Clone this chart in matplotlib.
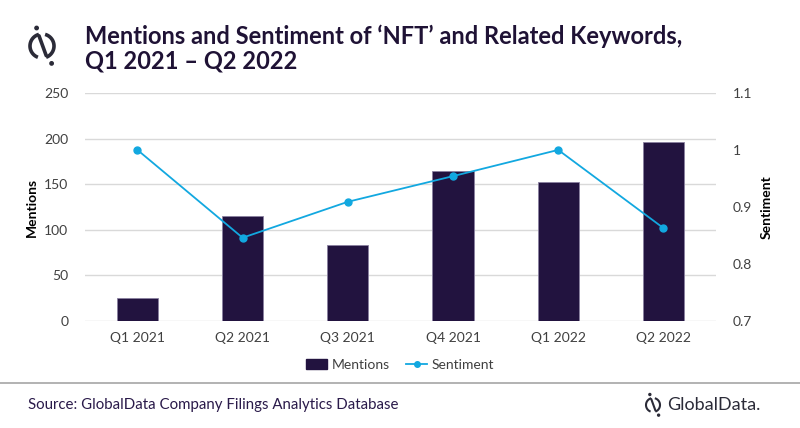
import matplotlib
matplotlib.use("Agg")
import matplotlib.pyplot as plt
import numpy as np
from matplotlib.patches import Circle
from matplotlib.lines import Line2D
from matplotlib.ticker import FuncFormatter

plt.rcParams['font.family'] = ['Lato', 'DejaVu Sans']

quarters = ['Q1 2021', 'Q2 2021', 'Q3 2021', 'Q4 2021', 'Q1 2022', 'Q2 2022']
mentions = [25, 115, 83, 164, 152, 196]
sentiment = [1.0, 0.846, 0.909, 0.954, 1.0, 0.863]

dark = '#22133f'
blue = '#12a8e0'
grey_txt = '#404040'
logo_col = '#2b2b38'

fig = plt.figure(figsize=(8, 4.28), dpi=100)
ax = fig.add_axes([0.106, 0.25, 0.789, 0.533])
ax2 = ax.twinx()

x = range(len(quarters))
ax.bar(x, mentions, width=0.39, color=dark, edgecolor='#8a80a0', linewidth=0.6, zorder=3, label='Mentions')
ax2.plot(x, sentiment, color=blue, marker='o', markersize=5, linewidth=1.3, zorder=4, label='Sentiment')

ax.set_ylim(0, 250)
ax.set_yticks([0, 50, 100, 150, 200, 250])
ax2.set_ylim(0.7, 1.1)
ax2.set_yticks([0.7, 0.8, 0.9, 1.0, 1.1])
ax2.yaxis.set_major_formatter(FuncFormatter(lambda v, p: f'{v:g}'))
ax.set_xlim(-0.5, len(quarters) - 0.5)
ax.set_xticks(list(x))
ax.set_xticklabels(quarters)

ax.grid(axis='y', color='#d9d9d9', linewidth=1, zorder=0)
for a in (ax, ax2):
    for s in a.spines.values():
        s.set_visible(False)
    a.tick_params(length=0, labelsize=10, labelcolor=grey_txt)
ax.tick_params(axis='x', pad=8)
ax.tick_params(axis='y', pad=12)
ax2.tick_params(axis='y', pad=12)

ax.set_ylabel('Mentions', fontsize=10, fontweight='bold', color='black')
ax.yaxis.set_label_coords(-0.074, 0.5)
ax2.set_ylabel('Sentiment', fontsize=10, fontweight='bold', color='black', rotation=90)
ax2.yaxis.set_label_coords(1.07, 0.5)

handles = [plt.Rectangle((0, 0), 1, 1, color=dark),
           Line2D([0], [0], color=blue, marker='o', markersize=4, linewidth=1.3)]
fig.legend(handles, ['Mentions', 'Sentiment'], loc='center', bbox_to_anchor=(0.5, 1 - 365 / 428),
           ncol=2, frameon=False, fontsize=10, handlelength=1.5, handletextpad=0.3, columnspacing=1.2,
           labelcolor=grey_txt)

# title
fig.text(85 / 800, 1 - 36 / 428, 'Mentions and Sentiment of ‘NFT’ and Related Keywords,',
         fontsize=17, fontweight='bold', color='#1f1235', va='center', ha='left')
fig.text(85 / 800, 1 - 61 / 428, 'Q1 2021 – Q2 2022',
         fontsize=17, fontweight='bold', color='#1f1235', va='center', ha='left')

# overlay for logo and footer, in pixel units (y up, origin bottom-left)
lax = fig.add_axes([0, 0, 1, 1], facecolor='none')
lax.set_xlim(0, 800)
lax.set_ylim(0, 428)
lax.axis('off')


def logo(cx, cy, r, lw, dot):
    # cx, cy given with y measured from the top of the image
    cy = 428 - cy
    for a0, a1 in ((105, 250), (-70, 75)):
        t = np.radians(np.linspace(a0, a1, 40))
        lax.plot(cx + r * np.cos(t), cy + r * np.sin(t), color=logo_col, linewidth=lw,
                 solid_capstyle='butt')
    lax.plot([cx - 0.25 * r, cx + 0.35 * r], [cy + 0.85 * r, cy - 0.8 * r],
             color=logo_col, linewidth=lw, solid_capstyle='round')
    lax.add_patch(Circle((cx - 0.45 * r, cy + 1.5 * r), dot, color=logo_col))
    lax.add_patch(Circle((cx + 0.8 * r, cy - 1.45 * r), dot, color=logo_col))


logo(42, 46, 12, 2.6, 1.7)

# footer
lax.plot([0, 800], [428 - 383, 428 - 383], color='#a6a6a6', linewidth=1.2)
fig.text(28 / 800, 1 - 405 / 428, 'Source: GlobalData Company Filings Analytics Database',
         fontsize=10.8, color='#2a1a4a', va='center', ha='left')
logo(653, 405, 7, 1.5, 1.0)
fig.text(667 / 800, 1 - 405 / 428, 'GlobalData.', fontsize=13, color=logo_col, va='center', ha='left')

fig.savefig('out.png', dpi=100)
